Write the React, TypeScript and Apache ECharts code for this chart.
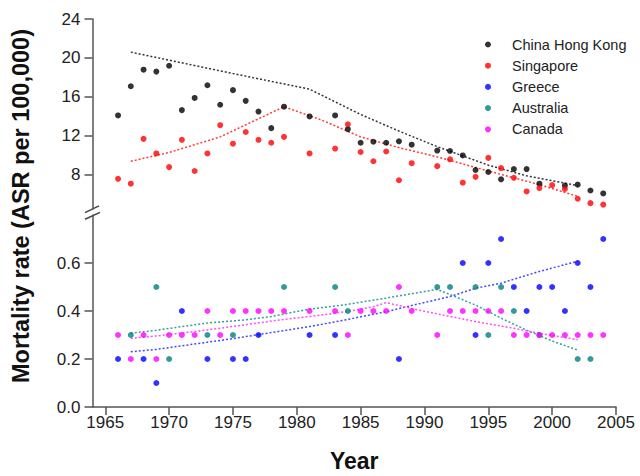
import React, { useEffect, useRef } from "react";
import * as echarts from "echarts";

// ---------- Upper panel data (ASR per 100,000) ----------
const hkYears = [1966, 1967, 1968, 1969, 1970, 1971, 1972, 1973, 1974, 1975, 1976, 1977, 1978, 1979, 1981, 1983, 1984, 1985, 1986, 1987, 1988, 1989, 1991, 1992, 1993, 1994, 1995, 1996, 1997, 1998, 1999, 2001, 2002, 2003, 2004];
const hkRates = [14.1, 17.1, 18.8, 18.6, 19.2, 14.65, 15.9, 17.2, 15.2, 16.7, 15.6, 14.5, 12.8, 15.0, 14.0, 14.1, 12.7, 11.3, 11.4, 11.3, 11.45, 11.1, 10.5, 10.45, 10.0, 8.5, 8.3, 7.55, 8.6, 8.6, 7.1, 6.9, 7.0, 6.4, 6.1];

const sgYears = [1966, 1967, 1968, 1969, 1970, 1971, 1972, 1973, 1974, 1975, 1976, 1977, 1978, 1979, 1981, 1983, 1984, 1985, 1986, 1987, 1988, 1989, 1991, 1992, 1993, 1994, 1995, 1996, 1997, 1998, 1999, 2000, 2001, 2002, 2003, 2004];
const sgRates = [7.6, 7.1, 11.7, 10.2, 8.8, 11.6, 8.4, 10.2, 13.1, 11.2, 12.4, 11.6, 11.3, 11.9, 10.2, 10.7, 13.2, 10.35, 9.4, 10.4, 7.45, 9.2, 8.9, 9.6, 7.2, 7.8, 9.75, 8.7, 7.7, 6.3, 6.65, 6.95, 6.55, 5.55, 5.1, 4.95];

// Fitted trends
const hkTrendYears = [1967, 1971, 1975, 1981, 1985, 1988, 1991, 1995, 1998, 2002];
const hkTrendRates = [20.6, 19.5, 18.4, 16.8, 14.2, 12.5, 10.9, 9.0, 7.9, 6.9];
const sgTrendYears = [1967, 1970, 1974, 1979, 1982, 1985, 1988, 1991, 1995, 1999, 2002];
const sgTrendRates = [9.4, 10.3, 11.9, 15.0, 13.6, 11.9, 10.8, 9.85, 8.4, 7.0, 5.8];

// ---------- Lower panel data ----------
const grYears = [1966, 1968, 1969, 1971, 1973, 1975, 1976, 1977, 1981, 1983, 1988, 1993, 1994, 1995, 1996, 1997, 1998, 1999, 2000, 2001, 2002, 2003, 2004];
const grRates = [0.2, 0.2, 0.1, 0.4, 0.2, 0.2, 0.2, 0.3, 0.3, 0.3, 0.2, 0.6, 0.3, 0.6, 0.7, 0.5, 0.4, 0.5, 0.5, 0.4, 0.6, 0.5, 0.7];

const auYears = [1967, 1969, 1970, 1973, 1975, 1979, 1983, 1984, 1991, 1992, 1994, 1995, 1996, 1997, 1999, 2002, 2003];
const auRates = [0.3, 0.5, 0.2, 0.3, 0.3, 0.5, 0.5, 0.4, 0.5, 0.5, 0.5, 0.3, 0.5, 0.4, 0.3, 0.2, 0.2];

const caYears = [1966, 1967, 1968, 1969, 1970, 1971, 1972, 1973, 1974, 1975, 1976, 1977, 1978, 1979, 1981, 1983, 1984, 1985, 1986, 1987, 1988, 1989, 1991, 1992, 1993, 1994, 1995, 1996, 1997, 1998, 1999, 2000, 2001, 2002, 2003, 2004];
const caRates = [0.3, 0.2, 0.3, 0.2, 0.3, 0.3, 0.3, 0.4, 0.3, 0.4, 0.4, 0.4, 0.4, 0.4, 0.4, 0.4, 0.3, 0.4, 0.4, 0.4, 0.5, 0.4, 0.3, 0.4, 0.4, 0.4, 0.4, 0.4, 0.3, 0.3, 0.3, 0.3, 0.3, 0.3, 0.3, 0.3];

const grTrendYears = [1967, 1969, 1973, 1975, 1978, 1981, 1984, 1987, 1989, 1992, 1994, 1996, 1999, 2002];
const grTrendRates = [0.23, 0.24, 0.27, 0.285, 0.31, 0.335, 0.365, 0.397, 0.423, 0.46, 0.495, 0.516, 0.565, 0.607];
const auTrendYears = [1967, 1969, 1973, 1976, 1978, 1981, 1984, 1987, 1991, 1994, 1996, 1998, 2000, 2002];
const auTrendRates = [0.307, 0.32, 0.35, 0.363, 0.377, 0.408, 0.428, 0.454, 0.49, 0.425, 0.37, 0.32, 0.275, 0.237];
const caTrendYears = [1967, 1969, 1973, 1976, 1979, 1981, 1984, 1986, 1987, 1989, 1991, 1994, 1997, 1999, 2002];
const caTrendRates = [0.286, 0.296, 0.321, 0.343, 0.365, 0.377, 0.398, 0.418, 0.435, 0.41, 0.388, 0.356, 0.328, 0.307, 0.28];

const xTicks = [1965, 1970, 1975, 1980, 1985, 1990, 1995, 2000, 2005];
const upperTicks = [8, 12, 16, 20, 24];
const lowerTicks = [0, 0.2, 0.4, 0.6];

const seriesNames = ["China Hong Kong", "Singapore", "Greece", "Australia", "Canada"];
const colors = ["#000000", "#ff0000", "#0000ff", "#008080", "#ff00ff"];
const trendColors = ["#333333", "#ff3a3a", "#4848ff", "#3a9e9e", "#ff4cff"];

const FONT = '"Liberation Sans", Arial, sans-serif';

const zip = (xs: number[], ys: number[]) => xs.map((x, i) => [x, ys[i]]);

export default function App() {
  const ref = useRef<HTMLDivElement>(null);

  useEffect(() => {
    document.body.style.margin = "0";
    if (!ref.current) return;
    const chart = echarts.init(ref.current, undefined, { renderer: "svg" });

    const axisLineStyle = { color: "#555", width: 1.5 };
    const labelStyle = { color: "#222", fontSize: 17, fontFamily: FONT };

    const scatter = (i: number, xs: number[], ys: number[], grid: number) => ({
      name: seriesNames[i],
      type: "scatter",
      xAxisIndex: grid,
      yAxisIndex: grid,
      symbol: "circle",
      symbolSize: 6,
      itemStyle: { color: colors[i] },
      data: zip(xs, ys),
      z: 3,
    });
    const trend = (i: number, xs: number[], ys: number[], grid: number) => ({
      name: seriesNames[i] + " trend",
      type: "line",
      xAxisIndex: grid,
      yAxisIndex: grid,
      showSymbol: false,
      symbol: "none",
      lineStyle: { color: trendColors[i], width: 1.5, type: [2, 2] },
      data: zip(xs, ys),
      z: 2,
    });

    const xBase = {
      type: "value",
      min: 1964,
      max: 2005,
      splitLine: { show: false },
    };

    chart.setOption({
      animation: false,
      backgroundColor: "#fff",
      grid: [
        { left: 92.5, width: 523.5, top: 19, height: 190 },
        { left: 92.5, width: 523.5, top: 215, height: 192 },
      ],
      xAxis: [
        { ...xBase, gridIndex: 0, show: false },
        {
          ...xBase,
          gridIndex: 1,
          axisLine: { show: true, lineStyle: axisLineStyle },
          axisTick: { show: true, length: 8, customValues: xTicks, lineStyle: axisLineStyle },
          axisLabel: { ...labelStyle, margin: 7, customValues: xTicks, formatter: (v: number) => String(v) },
          name: "Year",
          nameLocation: "middle",
          nameGap: 42,
          nameTextStyle: { fontSize: 23, fontWeight: "bold", color: "#111", fontFamily: FONT },
        },
      ],
      yAxis: [
        {
          type: "value",
          gridIndex: 0,
          min: 4.5,
          max: 24,
          splitLine: { show: false },
          axisLine: { show: true, lineStyle: axisLineStyle },
          axisTick: { show: true, length: 8, customValues: upperTicks, lineStyle: axisLineStyle },
          axisLabel: { ...labelStyle, margin: 12, customValues: upperTicks, formatter: (v: number) => String(v) },
        },
        {
          type: "value",
          gridIndex: 1,
          min: 0,
          max: 0.8,
          splitLine: { show: false },
          axisLine: { show: true, lineStyle: axisLineStyle },
          axisTick: { show: true, length: 8, customValues: lowerTicks, lineStyle: axisLineStyle },
          axisLabel: {
            ...labelStyle,
            margin: 12,
            customValues: lowerTicks,
            formatter: (v: number) => v.toFixed(1),
          },
        },
      ],
      legend: {
        data: seriesNames.map((n) => ({ name: n, icon: "circle" })),
        orient: "vertical",
        left: 480,
        top: 32,
        itemWidth: 38,
        itemHeight: 6,
        symbolKeepAspect: true,
        itemGap: 6.2,
        textStyle: { fontSize: 14.5, lineHeight: 14, color: "#222", fontFamily: FONT },
      },
      graphic: [
        {
          type: "text",
          x: 20.5,
          y: 206,
          rotation: Math.PI / 2,
          style: {
            text: "Mortality rate (ASR per 100,000)",
            fontSize: 23.5,
            fontWeight: "bold",
            fontFamily: FONT,
            fill: "#111",
            align: "center",
            verticalAlign: "middle",
          },
        },
        { type: "line", shape: { x1: 85, y1: 212.7, x2: 99, y2: 205.8 }, style: { stroke: "#444", lineWidth: 1.5 } },
        { type: "line", shape: { x1: 85, y1: 219.3, x2: 100, y2: 212.4 }, style: { stroke: "#444", lineWidth: 1.5 } },
      ],
      series: [
        trend(0, hkTrendYears, hkTrendRates, 0),
        trend(1, sgTrendYears, sgTrendRates, 0),
        trend(2, grTrendYears, grTrendRates, 1),
        trend(3, auTrendYears, auTrendRates, 1),
        trend(4, caTrendYears, caTrendRates, 1),
        scatter(0, hkYears, hkRates, 0),
        scatter(1, sgYears, sgRates, 0),
        scatter(2, grYears, grRates, 1),
        scatter(3, auYears, auRates, 1),
        scatter(4, caYears, caRates, 1),
      ],
    });

    return () => chart.dispose();
  }, []);

  return <div ref={ref} style={{ width: 640, height: 476 }} />;
}
